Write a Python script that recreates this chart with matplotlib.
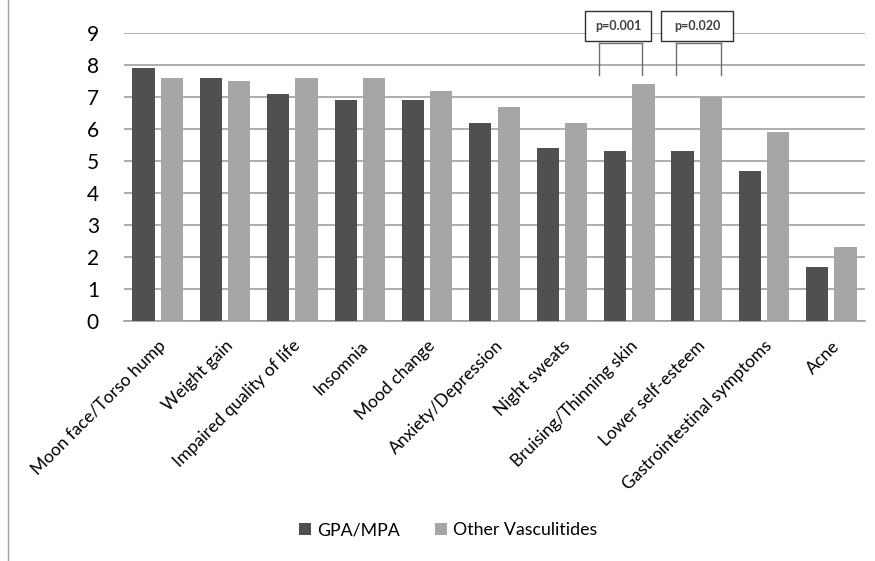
import numpy as np
import matplotlib
matplotlib.use("Agg")
import matplotlib.pyplot as plt
from matplotlib.lines import Line2D

categories = ["Moon face/Torso hump", "Weight gain", "Impaired quality of life",
              "Insomnia", "Mood change", "Anxiety/Depression", "Night sweats",
              "Bruising/Thinning skin", "Lower self-esteem",
              "Gastrointestinal symptoms", "Acne"]
gpa_mpa = [7.9, 7.6, 7.1, 6.9, 6.9, 6.2, 5.4, 5.3, 5.3, 4.7, 1.7]
other_vasc = [7.6, 7.5, 7.6, 7.6, 7.2, 6.7, 6.2, 7.4, 7.0, 5.9, 2.3]
p_labels = {7: "p=0.001", 8: "p=0.020"}

plt.rcParams['font.family'] = ['Lato', 'DejaVu Sans']

fig = plt.figure(figsize=(8.75, 5.61), dpi=100)
ax = fig.add_axes([0.1417, 0.4278, 0.8469, 0.5134])

x = np.arange(len(categories))
w = 0.33
ax.bar(x - 0.21, gpa_mpa, w, color="#505050", label="GPA/MPA", zorder=3)
ax.bar(x + 0.21, other_vasc, w, color="#A6A6A6", label="Other Vasculitides", zorder=3)

ax.set_xlim(-0.5, len(categories) - 0.5)
ax.set_ylim(0, 9)
ax.set_yticks(range(10))
ax.yaxis.grid(True, color="#A0A0A0", linewidth=1.2, zorder=0)
for s in ["top", "right", "left"]:
    ax.spines[s].set_visible(False)
ax.spines["bottom"].set_color("#A0A0A0")
ax.spines["bottom"].set_linewidth(1.2)
ax.tick_params(axis="y", length=0, labelsize=15, pad=18)
ax.tick_params(axis="x", length=0, pad=12)
ax.set_xticks(x)
ax.set_xticklabels(categories, rotation=45, ha="right", rotation_mode="anchor",
                   fontsize=12.5)

# significance brackets
offsets = {7: (-0.45, 0.19, -0.65, 0.32), 8: (-0.31, 0.36, -0.53, 0.54)}
for i, txt in p_labels.items():
    l1, l2, b1, b2 = offsets[i]
    for dx in (l1, l2):
        ax.plot([i + dx, i + dx], [7.7, 8.7], color="#707070", lw=1, clip_on=False, zorder=4)
    ax.plot([i + l1, i + l2], [8.7, 8.7], color="#707070", lw=1, clip_on=False, zorder=4)
    ax.add_patch(plt.Rectangle((i + b1, 8.75), b2 - b1, 0.95, facecolor="white",
                               edgecolor="#303030", lw=1, clip_on=False, zorder=5))
    ax.text(i + (b1 + b2) / 2, 9.22, txt, ha="center", va="center", fontsize=9,
            fontweight="bold", color="#404040", zorder=6)

fig.add_artist(Line2D([8 / 875, 8 / 875], [0, 1], color="#A0A0A0", lw=1))

fig.legend(loc="center", bbox_to_anchor=(448 / 875, 1 - 530 / 561), ncol=2,
           frameon=False, fontsize=12.8, handlelength=0.7, handleheight=0.7,
           handletextpad=0.3, columnspacing=2.0)

fig.savefig("out.png", dpi=100)
